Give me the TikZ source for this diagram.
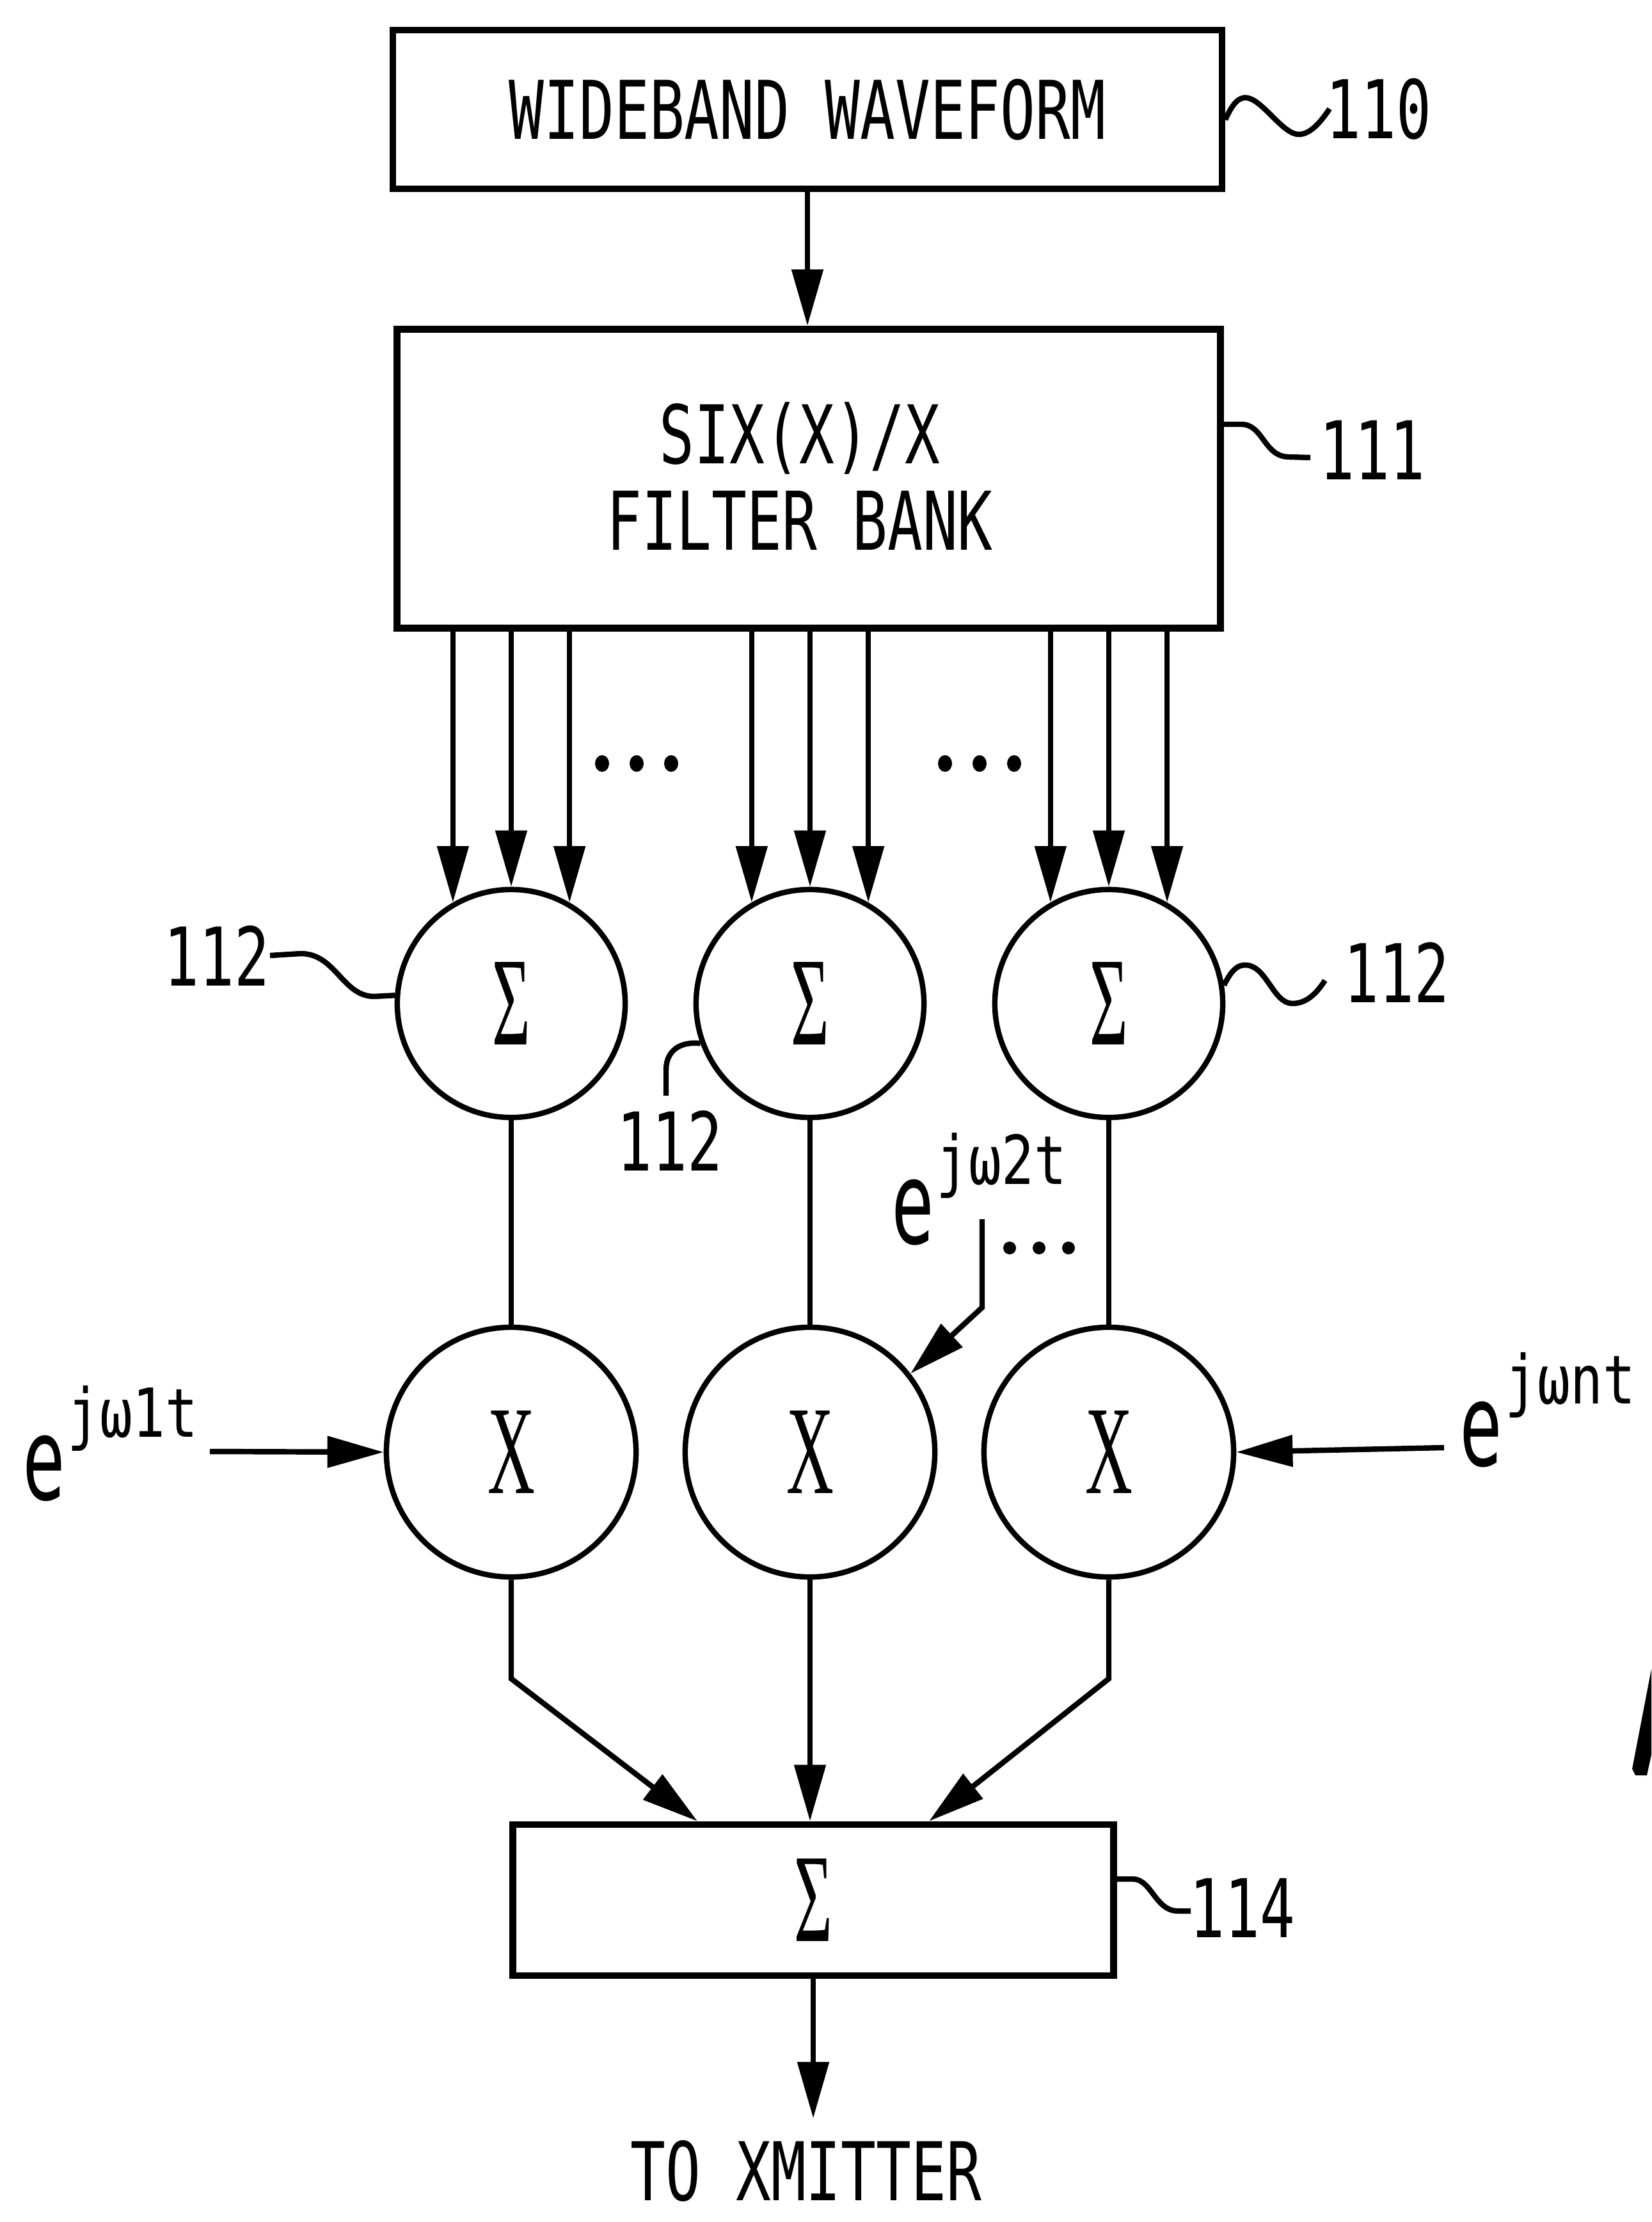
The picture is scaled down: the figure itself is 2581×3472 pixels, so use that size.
\documentclass[tikz,border=0pt]{standalone}
\usepackage{fontspec}
\usetikzlibrary{arrows.meta,calc}
\newfontfamily\pf[FakeStretch=0.72]{DejaVu Sans Mono}
\newfontfamily\supf[FakeStretch=0.8]{DejaVu Sans Mono}
\newfontfamily\ef[FakeStretch=0.62]{DejaVu Sans Mono}
\newfontfamily\symf[FakeStretch=0.52]{Liberation Serif}
\begin{document}
\begin{tikzpicture}[x=0.01cm,y=-0.01cm,
  lw/.style={line width=2.4pt},
  box/.style={draw, line width=3pt, inner sep=0pt, font=\pf\fontsize{36}{38.4}\selectfont, align=center},
  sumc/.style={draw, circle, lw, inner sep=0pt, minimum size=3.56cm, font=\symf\fontsize{56}{60}\selectfont},
  mulc/.style={draw, circle, lw, inner sep=0pt, minimum size=3.9cm, font=\symf\fontsize{56}{60}\selectfont},
  arr/.style={lw, -{Triangle[length=0.88cm,width=0.48cm]}},
  lbl/.style={font=\pf\fontsize{36}{38.4}\selectfont, inner sep=0pt},
  supl/.style={font=\supf\fontsize{30}{32}\selectfont, inner sep=0pt, anchor=base west},
  ebig/.style={font=\ef\fontsize{51}{54}\selectfont, inner sep=0pt, anchor=base}
]
\fill[white] (0,0) rectangle (2581,3472);
\useasboundingbox (0,0) rectangle (2581,3472);

% boxes
\node[box, minimum width=12.95cm, minimum height=2.48cm] (b110) at (1262,171) {WIDEBAND WAVEFORM};
\node[box, minimum width=12.86cm, minimum height=4.67cm] (b111) at (1264,748) {};
\node[lbl, align=center] (t111) at (1250,744) {SIX(X)/X\\FILTER BANK};
\node[box, minimum width=9.38cm, minimum height=2.36cm, font=\symf\fontsize{56}{60}\selectfont] (b114) at (1271,2969) {Σ};

% circles
\node[sumc] (s1) at (799,1568) {Σ};
\node[sumc] (s2) at (1266,1568) {Σ};
\node[sumc] (s3) at (1733,1568) {Σ};
\node[mulc] (x1) at (799,2269) {X};
\node[mulc] (x2) at (1266,2269) {X};
\node[mulc] (x3) at (1733,2269) {X};

% reference labels
\node[lbl] (n110) at (2155,170) {110};
\node[lbl] (n111) at (2145,703) {111};
\node[lbl] (n112a) at (339,1493) {112};
\node[lbl] (n112b) at (1047,1782) {112};
\node[lbl] (n112c) at (2183,1519) {112};
\node[lbl] (n114) at (1942,2981) {114};
\node[lbl] (txm) at (1260,3392) {TO XMITTER};

% exponentials
\node[ebig] (e1) at (69,2343) {e};
\node[supl] (e1s) at (105,2245) {jω1t};
\node[ebig] (e2) at (1427,1943) {e};
\node[supl] (e2s) at (1463,1850) {jω2t};
\node[ebig] (e3) at (2315,2290) {e};
\node[supl] (e3s) at (2352,2193) {jωnt};

% connectors
\draw[arr] (b110.south) -- (b110.south |- b111.north);
\foreach \s in {s1,s2,s3} {
  \draw[arr] (\s.120 |- b111.south) -- (\s.120);
  \draw[arr] (\s.north |- b111.south) -- (\s.north);
  \draw[arr] (\s.60 |- b111.south) -- (\s.60);
}
\foreach \x in {941,995,1049,1477,1531,1585}
  \fill (\x,1193) ellipse [x radius=0.11cm, y radius=0.13cm];
\foreach \x in {1578,1624,1670}
  \fill (\x,1950) circle [radius=0.1cm];

\foreach \i in {1,2,3} \draw[lw] (s\i.south) -- (x\i.north);

\coordinate (in1) at (328,2268);
\coordinate (in2) at (1535,1905);
\coordinate (in3) at (2257,2262);
\draw[arr] (in1) -- (x1.west);
\draw[arr] (in3) -- (x3.east);
\draw[arr] (in2) -- (1535,2043) -- (x2.38);

\coordinate (k1) at (799,2623);
\coordinate (k3) at (1733,2623);
\coordinate (out) at (1271,3310);
\draw[arr] (x1.south) -- (k1) -- ($(b114.north)+(-181,0)$);
\draw[arr] (x2.south) -- (x2.south |- b114.north);
\draw[arr] (x3.south) -- (k3) -- ($(b114.north)+(181,0)$);
\draw[arr] (b114.south) -- (out);

% leaders
\draw[lw] ($(b110.east)+(0,16)$) .. controls (1925,165) and (1935,150) .. (1950,153)
  .. controls (1975,158) and (2005,210) .. (2030,210) .. controls (2050,210) and (2068,185) .. (2078,170);
\draw[lw] ($(b111.east)+(0,-85)$) -- (1940,663) .. controls (1975,663) and (1975,714) .. (2015,714) -- (2048,715);
\draw[lw] ($(b114.east)+(0,-33)$) -- (1770,2936) .. controls (1800,2936) and (1805,2985) .. (1840,2986) -- (1861,2986);
\draw[lw] (n112a.east) -- (470,1490) .. controls (525,1490) and (535,1557) .. (585,1557) -- (s1.176);
\coordinate (m112) at (1041,1712);
\draw[lw] (m112) -- (1041,1672) .. controls (1041,1640) and (1065,1627) .. (s2.200);
\draw[lw] (s3.9) .. controls (1925,1515) and (1935,1507) .. (1948,1508)
  .. controls (1980,1510) and (1990,1568) .. (2020,1568) .. controls (2045,1568) and (2060,1548) .. (2071,1532);

% cut-off figure mark at right edge
\fill (2581,2608) -- (2551,2764) -- (2556,2774) -- (2574,2774) -- (2581,2742) -- cycle;
\end{tikzpicture}
\end{document}
